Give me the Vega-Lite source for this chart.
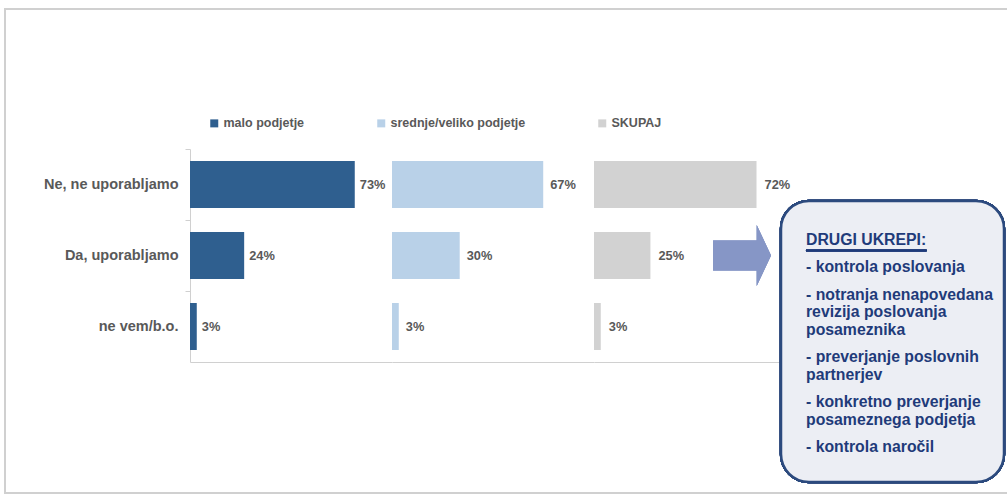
{
  "$schema": "https://vega.github.io/schema/vega-lite/v6.json",
  "background": "white",
  "padding": {"left": 4, "top": 7, "right": 0, "bottom": 0},
  "bounds": "flush",
  "config": {
    "view": {"stroke": null},
    "font": "Liberation Sans",
    "legend": {"padding": 0}
  },
  "datasets": {
    "bars": [
      {"group": "malo podjetje", "answer": "Ne, ne uporabljamo", "value": 0.73},
      {"group": "malo podjetje", "answer": "Da, uporabljamo", "value": 0.24},
      {"group": "malo podjetje", "answer": "ne vem/b.o.", "value": 0.03},
      {"group": "srednje/veliko podjetje", "answer": "Ne, ne uporabljamo", "value": 0.67},
      {"group": "srednje/veliko podjetje", "answer": "Da, uporabljamo", "value": 0.30},
      {"group": "srednje/veliko podjetje", "answer": "ne vem/b.o.", "value": 0.03},
      {"group": "SKUPAJ", "answer": "Ne, ne uporabljamo", "value": 0.72},
      {"group": "SKUPAJ", "answer": "Da, uporabljamo", "value": 0.25},
      {"group": "SKUPAJ", "answer": "ne vem/b.o.", "value": 0.03}
    ],
    "notes": [
      {"line": 0, "item": 0, "text": "DRUGI UKREPI:"},
      {"line": 1, "item": 1, "text": "- kontrola poslovanja"},
      {"line": 2, "item": 2, "text": "- notranja nenapovedana"},
      {"line": 3, "item": 2, "text": "revizija poslovanja"},
      {"line": 4, "item": 2, "text": "posameznika"},
      {"line": 5, "item": 3, "text": "- preverjanje poslovnih"},
      {"line": 6, "item": 3, "text": "partnerjev"},
      {"line": 7, "item": 4, "text": "- konkretno preverjanje"},
      {"line": 8, "item": 4, "text": "posameznega podjetja"},
      {"line": 9, "item": 5, "text": "- kontrola naročil"}
    ]
  },
  "spacing": 0,
  "hconcat": [
    {
      "width": 202,
      "height": 213,
      "layer": [
        {
          "data": {"values": [{"frame": "border"}]},
          "mark": {"type": "rect", "fill": null, "stroke": "#D0D0D0", "strokeWidth": 2},
          "encoding": {
            "x": {"datum": -0.9158, "type": "quantitative", "scale": {"domain": [0, 1], "nice": false}, "axis": null},
            "x2": {"datum": 4.07},
            "y": {"datum": -0.6573, "type": "quantitative", "scale": {"domain": [0, 1], "nice": false, "reverse": true}, "axis": null},
            "y2": {"datum": 1.615}
          }
        },
        {
          "data": {"name": "bars"},
          "transform": [{"filter": "datum.group === 'malo podjetje'"}],
          "encoding": {
            "y": {
              "field": "answer", "type": "nominal",
              "sort": ["Ne, ne uporabljamo", "Da, uporabljamo", "ne vem/b.o."],
              "scale": {"paddingInner": 0, "paddingOuter": 0},
              "axis": {
                "title": null, "labelFont": "Liberation Sans", "labelFontWeight": "bold",
                "labelFontSize": 14.5, "labelColor": "#595959", "labelPadding": 7,
                "tickSize": 5, "tickColor": "#D0D0D0", "domainColor": "#D0D0D0",
                "bandPosition": 0, "minExtent": 186, "maxExtent": 186, "grid": false
              }
            },
            "x": {
              "field": "value", "type": "quantitative",
              "scale": {"domain": [0, 0.895], "nice": false},
              "axis": {"title": null, "labels": false, "ticks": false, "grid": false, "domainColor": "#D0D0D0"}
            }
          },
          "layer": [
            {
              "mark": {"type": "bar", "height": {"band": 0.662}},
              "encoding": {
                "color": {
                  "field": "group", "type": "nominal",
                  "scale": {"domain": ["malo podjetje", "srednje/veliko podjetje", "SKUPAJ"], "range": ["#2F5F8F", "#B9D1E8", "#D2D2D2"]},
                  "legend": {
                    "orient": "none", "legendX": 18, "legendY": -32, "direction": "horizontal", "title": null,
                    "symbolType": "square", "symbolSize": 64, "symbolStrokeWidth": 0,
                    "labelFont": "Liberation Sans", "labelFontWeight": "bold", "labelFontSize": 12.5,
                    "labelColor": "#595959", "labelOffset": 3, "columnPadding": 70
                  }
                }
              }
            },
            {
              "mark": {"type": "text", "align": "left", "baseline": "middle", "dx": 5, "font": "Liberation Sans", "fontWeight": "bold", "fontSize": 12.8, "fill": "#595959"},
              "encoding": {"text": {"field": "value", "type": "quantitative", "format": ".0%"}}
            }
          ]
        }
      ],
      "resolve": {"scale": {"x": "independent", "y": "independent"}, "axis": {"x": "independent", "y": "independent"}}
    },
    {
      "width": 202,
      "height": 213,
      "data": {"name": "bars"},
      "transform": [{"filter": "datum.group === 'srednje/veliko podjetje'"}],
      "encoding": {
        "y": {
          "field": "answer", "type": "nominal",
          "sort": ["Ne, ne uporabljamo", "Da, uporabljamo", "ne vem/b.o."],
          "scale": {"paddingInner": 0, "paddingOuter": 0},
          "axis": null
        },
        "x": {
          "field": "value", "type": "quantitative",
          "scale": {"domain": [0, 0.895], "nice": false},
          "axis": {"title": null, "labels": false, "ticks": false, "grid": false, "domainColor": "#D0D0D0"}
        }
      },
      "layer": [
        {
          "mark": {"type": "bar", "height": {"band": 0.662}},
          "encoding": {
            "color": {
              "field": "group", "type": "nominal",
              "scale": {"domain": ["malo podjetje", "srednje/veliko podjetje", "SKUPAJ"], "range": ["#2F5F8F", "#B9D1E8", "#D2D2D2"]},
              "legend": {
                "orient": "none", "legendX": 18, "legendY": -32, "direction": "horizontal", "title": null,
                "symbolType": "square", "symbolSize": 64, "symbolStrokeWidth": 0,
                "labelFont": "Liberation Sans", "labelFontWeight": "bold", "labelFontSize": 12.5,
                "labelColor": "#595959", "labelOffset": 3, "columnPadding": 70
              }
            }
          }
        },
        {
          "mark": {"type": "text", "align": "left", "baseline": "middle", "dx": 7, "font": "Liberation Sans", "fontWeight": "bold", "fontSize": 12.8, "fill": "#595959"},
          "encoding": {"text": {"field": "value", "type": "quantitative", "format": ".0%"}}
        }
      ]
    },
    {
      "width": 187,
      "height": 213,
      "data": {"name": "bars"},
      "transform": [{"filter": "datum.group === 'SKUPAJ'"}],
      "encoding": {
        "y": {
          "field": "answer", "type": "nominal",
          "sort": ["Ne, ne uporabljamo", "Da, uporabljamo", "ne vem/b.o."],
          "scale": {"paddingInner": 0, "paddingOuter": 0},
          "axis": null
        },
        "x": {
          "field": "value", "type": "quantitative",
          "scale": {"domain": [0, 0.8285], "nice": false},
          "axis": {"title": null, "labels": false, "ticks": false, "grid": false, "domainColor": "#D0D0D0"}
        }
      },
      "layer": [
        {
          "mark": {"type": "bar", "height": {"band": 0.662}},
          "encoding": {
            "color": {
              "field": "group", "type": "nominal",
              "scale": {"domain": ["malo podjetje", "srednje/veliko podjetje", "SKUPAJ"], "range": ["#2F5F8F", "#B9D1E8", "#D2D2D2"]},
              "legend": {
                "orient": "none", "legendX": 18, "legendY": -32, "direction": "horizontal", "title": null,
                "symbolType": "square", "symbolSize": 64, "symbolStrokeWidth": 0,
                "labelFont": "Liberation Sans", "labelFontWeight": "bold", "labelFontSize": 12.5,
                "labelColor": "#595959", "labelOffset": 3, "columnPadding": 70
              }
            }
          }
        },
        {
          "mark": {"type": "text", "align": "left", "baseline": "middle", "dx": 8, "font": "Liberation Sans", "fontWeight": "bold", "fontSize": 12.8, "fill": "#595959"},
          "encoding": {"text": {"field": "value", "type": "quantitative", "format": ".0%"}}
        },
        {
          "mark": {"type": "point", "filled": true, "fill": "#8696C6", "opacity": 1, "strokeWidth": 0,
            "shape": "M-0.95,-0.49 L0.48,-0.49 L0.48,-1 L0.95,0 L0.48,1 L0.48,0.49 L-0.95,0.49 Z", "size": 3721},
          "encoding": {
            "x": {"datum": 0.656},
            "y": {"datum": "Da, uporabljamo"}
          }
        }
      ]
    },
    {
      "width": 223,
      "height": 335,
      "data": {"name": "notes"},
      "transform": [{"calculate": "datum.line + datum.item * 10 / 17.5", "as": "pos"}],
      "layer": [
        {
          "mark": {"type": "rect", "cornerRadius": 28, "fill": "#ECEEF4", "stroke": "#2C4A7E", "strokeWidth": 2.5},
          "encoding": {
            "x": {"datum": 0, "type": "quantitative", "scale": {"domain": [0, 1], "nice": false}, "axis": null},
            "x2": {"datum": 1},
            "y": {"datum": -2.229, "type": "quantitative", "scale": {"domain": [-5.2, 13.943], "nice": false, "zero": false, "reverse": true}, "axis": null},
            "y2": {"datum": 13.83}
          }
        },
        {
          "mark": {"type": "rule", "stroke": "#1F3B7A", "strokeWidth": 1.5},
          "encoding": {
            "x": {"datum": 0.112, "type": "quantitative"},
            "x2": {"datum": 0.653},
            "y": {"datum": 0.6, "type": "quantitative"}
          }
        },
        {
          "mark": {"type": "text", "align": "left", "baseline": "middle", "font": "Liberation Sans", "fontWeight": "bold", "fontSize": 15.8, "fill": "#1F3B7A"},
          "encoding": {
            "x": {"datum": 0.112, "type": "quantitative"},
            "y": {"field": "pos", "type": "quantitative"},
            "text": {"field": "text"}
          }
        }
      ]
    }
  ]
}
